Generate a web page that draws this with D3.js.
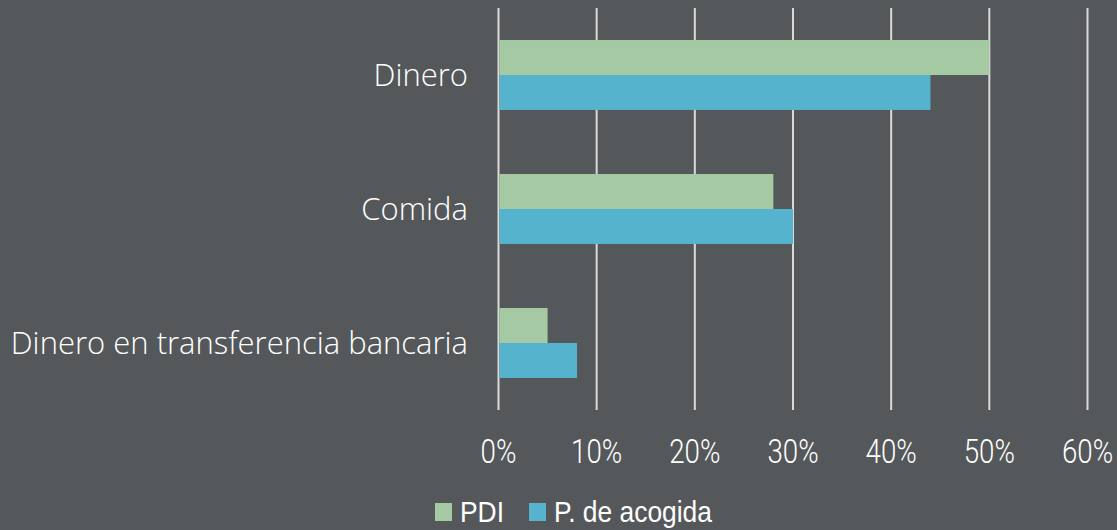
<!DOCTYPE html>
<html>
<head>
<meta charset="utf-8">
<script src="https://cdn.jsdelivr.net/npm/d3@7"></script>
<style>
  html, body { margin: 0; padding: 0; background: #55585a; }
</style>
</head>
<body>
<div id="chart"></div>
<script>
// categorías y series
var categories = ['Dinero', 'Comida', 'Dinero en transferencia bancaria'];
var seriesNames = ['PDI', 'P. de acogida'];
var pdiValues = [50, 28, 5];
var acogidaValues = [44, 30, 8];
var tickValues = [0, 10, 20, 30, 40, 50, 60];
var colors = ['#a5caa3', '#56b3ce'];

var width = 1117;
var height = 530;
var plotLeft = 498.5, plotRight = 1087.5, plotTop = 8, plotBottom = 410;

var svg = d3.select('#chart')
    .append('svg')
    .attr('width', width)
    .attr('height', height)
    .style('background', '#55585a');

var x = d3.scaleLinear()
    .domain([0, 60])
    .range([plotLeft, plotRight]);

var y = d3.scaleBand()
    .domain(categories)
    .range([plotTop, plotBottom])
    .paddingInner(0.478)
    .paddingOuter(0.239);

var ySub = d3.scaleBand()
    .domain(seriesNames)
    .range([0, y.bandwidth()]);

// rutnät
svg.append('g')
    .selectAll('line')
    .data(tickValues).enter()
    .append('line')
    .attr('x1', function (d) { return x(d); })
    .attr('x2', function (d) { return x(d); })
    .attr('y1', plotTop)
    .attr('y2', plotBottom)
    .style('stroke', '#d9d9d9')
    .style('stroke-width', 2);

// staplar
var rows = categories.map(function (c, i) {
    return [
        { cat: c, name: seriesNames[0], value: pdiValues[i] },
        { cat: c, name: seriesNames[1], value: acogidaValues[i] }
    ];
});

svg.append('g')
    .selectAll('g')
    .data(rows).enter()
    .append('g')
    .selectAll('rect')
    .data(function (d) { return d; }).enter()
    .append('rect')
    .attr('x', x(0) + 1)
    .attr('y', function (d) { return y(d.cat) + ySub(d.name); })
    .attr('width', function (d) { return x(d.value) - x(0) - 1; })
    .attr('height', ySub.bandwidth())
    .style('fill', function (d, i) { return colors[i]; });

// kategorietiketter
svg.append('g')
    .selectAll('text')
    .data(categories).enter()
    .append('text')
    .attr('x', 468)
    .attr('y', function (d) { return y(d) + y.bandwidth() / 2; })
    .attr('dy', '0.36em')
    .attr('text-anchor', 'end')
    .style('font-family', '"Open Sans", sans-serif')
    .style('font-size', '31px')
    .style('font-weight', 300)
    .style('fill', '#ffffff')
    .text(function (d) { return d; });

// x-axel etiketter
svg.append('g')
    .selectAll('text')
    .data(tickValues).enter()
    .append('text')
    .attr('transform', function (d) { return 'translate(' + x(d) + ',463) scale(0.84,1)'; })
    .attr('text-anchor', 'middle')
    .style('font-family', 'Roboto, "Liberation Sans", sans-serif')
    .style('font-size', '33px')
    .style('font-weight', 300)
    .style('fill', '#ffffff')
    .text(function (d) { return d + '%'; });

// legend
var legendX = [435, 529];
var legend = svg.append('g')
    .selectAll('g')
    .data(seriesNames).enter()
    .append('g')
    .attr('transform', function (d, i) { return 'translate(' + legendX[i] + ',503)'; });

legend.append('rect')
    .attr('width', 17)
    .attr('height', 18)
    .style('fill', function (d, i) { return colors[i]; });

legend.append('text')
    .attr('transform', 'translate(25,19) scale(0.91,1)')
    .style('font-family', '"Liberation Sans", Arial, sans-serif')
    .style('font-size', '29px')
    .style('fill', '#ffffff')
    .text(function (d) { return d; });
</script>
</body>
</html>
